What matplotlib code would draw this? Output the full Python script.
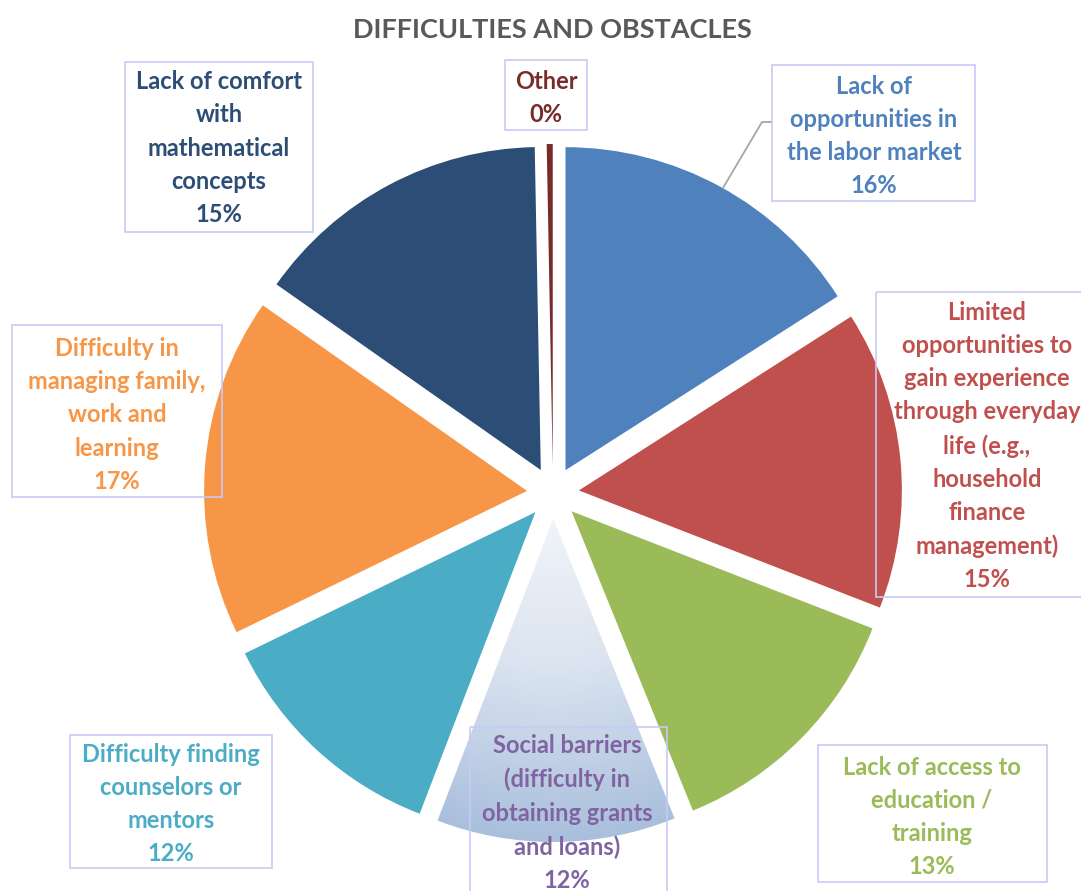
import numpy as np
import matplotlib
matplotlib.use("Agg")
import matplotlib.pyplot as plt
from matplotlib.patches import Rectangle
from matplotlib.colors import LinearSegmentedColormap

plt.rcParams['font.family'] = ['Lato', 'DejaVu Sans']

# --- data -----------------------------------------------------------------
categories = [
    "Lack of\nopportunities in\nthe labor market",
    "Limited\nopportunities to\ngain experience\nthrough everyday\nlife (e.g.,\nhousehold\nfinance\nmanagement)",
    "Lack of access to\neducation /\ntraining",
    "Social barriers\n(difficulty in\nobtaining grants\nand loans)",
    "Difficulty finding\ncounselors or\nmentors",
    "Difficulty in\nmanaging family,\nwork and\nlearning",
    "Lack of comfort\nwith\nmathematical\nconcepts",
    "Other",
]
values = [16, 15, 13, 12, 12, 17, 15, 0.3]

slice_colors = ["#4f81bd", "#c0504d", "#9bbb59", "#b9cbe3",
                "#4bacc6", "#f79646", "#2c4d75", "#772c2a"]
text_colors = ["#4f81bd", "#c0504d", "#9bbb59", "#8064a2",
               "#4bacc6", "#f79646", "#2c4d75", "#772c2a"]

# --- layout (pixel space, y downwards) ----------------------------------------
W, H = 1081, 891
center = (553, 493)
radius = 323
explode_px = 26

label_centers = [(874, 136), (987, 446), (932, 817), (567, 813),
                 (171, 804), (117, 415), (219, 148), (546, 98)]
label_boxes = [(772, 65, 975, 201), (876, 292, 1086, 597), (818, 745, 1047, 882),
               (470, 727, 667, 900), (70, 735, 272, 868), (12, 325, 222, 497),
               (125, 62, 313, 232), (505, 60, 587, 130)]

fig = plt.figure(figsize=(W / 100, H / 100), dpi=100)
ax = fig.add_axes([0, 0, 1, 1])

# y axis is inverted, so counterclockwise in data space is clockwise on screen
wedges, _ = ax.pie(values, colors=slice_colors, startangle=-90, counterclock=True,
                   radius=radius, center=center,
                   explode=[explode_px] * len(values),
                   wedgeprops=dict(linewidth=0), frame=True)
ax.set_xlim(0, W)
ax.set_ylim(H, 0)
ax.set_aspect('equal')
ax.axis('off')

# gradient fill for the social-barriers slice
sw = wedges[3]
sw.set_facecolor('none')
grad_cmap = LinearSegmentedColormap.from_list("soc", ["#f4f7fb", "#dbe4f0", "#a9bfdc"])
gx = np.linspace(0, W, 400)
gy = np.linspace(0, H, 400)
GX, GY = np.meshgrid(gx, gy)
dist = np.hypot(GX - center[0], GY - center[1]) / (radius + explode_px)
img = ax.imshow(np.clip(dist, 0, 1), cmap=grad_cmap, extent=(0, W, H, 0),
                origin='upper', zorder=0.9, interpolation='bilinear')
img.set_clip_path(sw)
ax.set_xlim(0, W)
ax.set_ylim(H, 0)

# labels
total = sum(values)
for i, (name, v) in enumerate(zip(categories, values)):
    pct = f"{round(100 * v / total):.0f}%"
    cx, cy = label_centers[i]
    ax.text(cx, cy, f"{name}\n{pct}", ha='center', va='center', fontsize=17,
            fontweight='bold', color=text_colors[i], linespacing=1.54, zorder=5)
    x0, y0, x1, y1 = label_boxes[i]
    ax.add_patch(Rectangle((x0, y0), x1 - x0, y1 - y0, fill=False,
                           edgecolor="#c9c9f7", linewidth=1.2, zorder=4))

# leader line for the first slice
ax.plot([723, 762, 772], [188, 122, 122], color="#a6a6a6", linewidth=1.3, zorder=3)

fig.text(0.511, 1 - 30 / H, "DIFFICULTIES AND OBSTACLES", ha='center', va='center',
         fontsize=19.5, fontweight='bold', color="#595959")

fig.savefig("out.png", dpi=100)
